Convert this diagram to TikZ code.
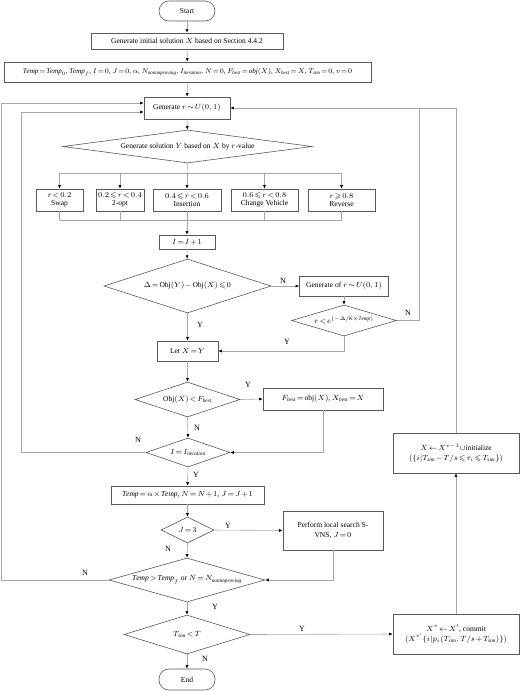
\RequirePackage{fix-cm}
\documentclass[tikz,border=0pt]{standalone}
\usepackage{amssymb}
\usepackage{fontspec}
\setmainfont{Liberation Serif}
\usetikzlibrary{shapes.geometric,arrows.meta,calc}
\newcommand{\mi}[1]{\mathit{#1}}
\AtBeginDocument{\medmuskip=1.5mu\relax\thickmuskip=2mu\relax}
\begin{document}
\begin{tikzpicture}[x=1pt,y=-1pt,
  every node/.style={font=\fontsize{7.5}{9}\selectfont},
  box/.style={draw=black!65, fill=white, line width=0.6pt, rectangle, inner sep=1pt, align=center},
  term/.style={box, rounded corners=10pt},
  dia/.style={draw=black!65, fill=white, line width=0.6pt, diamond, inner sep=0pt, align=center},
  con/.style={draw=black!35, line width=0.6pt},
  arr/.style={con, -{Latex[length=3.5pt,width=3pt,color=black]}},
  lbl/.style={inner sep=0pt, font=\fontsize{8}{9}\selectfont}
]
\useasboundingbox (0,0) rectangle (520,691);

% nodes
\node[term, minimum width=56pt, minimum height=20pt] (start) at (187,11) {Start};
\node[box, minimum width=192pt, minimum height=16pt] (init) at (187,41) {Generate initial solution $X$ based on Section 4.4.2};
\node[box, minimum width=367pt, minimum height=20pt, font=\fontsize{7}{9}\selectfont] (param) at (187.5,72) {$\mi{Temp}=\mi{Temp}_0$, $\mi{Temp}_f$, $I=0$, $J=0$, $\alpha$, $N_{\mi{nonimproving}}$, $I_{\mi{iteration}}$, $N=0$, $F_{\mi{best}}=\mi{obj}(X)$, $X_{\mi{best}}=X$, $T_{\mi{sim}}=0$, $v=0$};
\node[box, minimum width=86pt, minimum height=22pt] (genr) at (187,108) {Generate $r\sim U(0,1)$};
\node[dia, aspect=7.55, minimum width=249pt, minimum height=33pt] (gensol) at (187.5,146.5) {Generate solution $Y$ based on $X$ by $r$-value};
\node[box, minimum width=47pt, minimum height=22pt] (swap) at (59.5,200) {$r<0.2$\\[-1pt]Swap};
\node[box, minimum width=48pt, minimum height=22pt] (opt) at (120,200) {$0.2\leqslant r<0.4$\\[-1pt]2-opt};
\node[box, minimum width=68pt, minimum height=22pt] (ins) at (187,200) {$0.4\leqslant r<0.6$\\[-1pt]Insertion};
\node[box, minimum width=67pt, minimum height=22pt] (chv) at (264.5,200) {$0.6\leqslant r<0.8$\\[-1pt]Change Vehicle};
\node[box, minimum width=67pt, minimum height=22pt] (rev) at (341.5,200) {$r\geqslant 0.8$\\[-1pt]Reverse};
\node[box, minimum width=56pt, minimum height=14pt] (inc) at (187,242) {$I=I+1$};
\node[dia, aspect=3.09, minimum width=167pt, minimum height=54pt] (delta) at (187.5,286) {$\Delta=\mathrm{Obj}(Y)-\mathrm{Obj}(X)\leqslant 0$};
\node[box, minimum width=89pt, minimum height=20pt] (genr2) at (344,286) {Generate of $r\sim U(0,1)$};
\node[dia, aspect=3.39, minimum width=105pt, minimum height=31pt] (rexp) at (344,320.5) {$r<e^{(-\Delta/\mathrm{K}\times \mi{Temp})}$};
\node[box, minimum width=61pt, minimum height=20pt] (letx) at (187.5,351) {Let $X=Y$};
\node[dia, aspect=3, minimum width=105pt, minimum height=35pt] (objd) at (187.5,399.5) {$\mathrm{Obj}(X)<F_{\mi{best}}$};
\node[box, minimum width=120pt, minimum height=22pt] (fbest) at (323,399) {$F_{\mi{best}}=\mathrm{obj}(X)$, $X_{\mi{best}}=X$};
\node[dia, aspect=2.9, minimum width=84pt, minimum height=29pt] (iter) at (188,452.5) {$I=I_{\mi{iteration}}$};
\node[box, minimum width=126pt, minimum height=40pt] (reinit) at (456,453) {$X\leftarrow X^{v-1}\cup$initialize\\[1pt]$(\{i|T_{\mi{sim}}-T/s\leqslant\tau_i\leqslant T_{\mi{sim}}\})$};
\node[box, minimum width=153pt, minimum height=18pt] (cool) at (187.5,495) {$\mi{Temp}=\alpha\times\mi{Temp}$, $N=N+1$, $J=J+1$};
\node[dia, aspect=2.04, minimum width=53pt, minimum height=26pt] (jthree) at (187.5,530) {$J=3$};
\node[box, minimum width=100pt, minimum height=39pt] (vns) at (333,530.5) {Perform local search S-\\[1pt]VNS, $J=0$};
\node[dia, aspect=3.55, minimum width=156pt, minimum height=44pt] (stop) at (187,580) {$\mi{Temp}>\mi{Temp}_f$ or $N=N_{\mi{nonimproving}}$};
\node[dia, aspect=3.23, minimum width=126pt, minimum height=39pt] (tsim) at (187,634.5) {$T_{\mi{sim}}<T$};
\node[box, minimum width=126pt, minimum height=40pt] (commit) at (456,634) {$X^{v}\leftarrow X'$, commit\\[1pt]$(X^{v'}\{i|p_i(T_{\mi{sim}},T/s+T_{\mi{sim}})\})$};
\node[term, minimum width=56pt, minimum height=21pt] (end) at (187,679.5) {End};

% helper coordinates
\coordinate (gin1) at ([yshift=5pt]genr.west);
\coordinate (gin2) at ([yshift=-4pt]genr.west);
\coordinate (brk) at (187,173);
\coordinate (mrg) at (187,220);
\coordinate (rN) at (419,320.5);
\coordinate (rTop) at (419,108);
\coordinate (lx1) at (21,452.5);
\coordinate (lx2) at (1,580);

% connectors
\draw[arr] (start) -- (init);
\draw[arr] (init) -- (param);
\draw[arr] (param) -- (genr);
\draw[arr] (genr) -- (gensol);
\draw[con] (gensol.south) -- (brk);
\draw[con] (brk -| swap.north) -- (brk -| rev.north);
\draw[arr] (brk -| swap.north) -- (swap.north);
\draw[arr] (brk -| opt.north) -- (opt.north);
\draw[arr] (brk) -- (ins.north);
\draw[arr] (brk -| chv.north) -- (chv.north);
\draw[arr] (brk -| rev.north) -- (rev.north);
\draw[con] (swap.south) -- (mrg -| swap.south);
\draw[con] (opt.south) -- (mrg -| opt.south);
\draw[con] (ins.south) -- (mrg);
\draw[con] (chv.south) -- (mrg -| chv.south);
\draw[con] (rev.south) -- (mrg -| rev.south);
\draw[con] (mrg -| swap.south) -- (mrg -| rev.south);
\draw[arr] (mrg) -- (inc.north);
\draw[arr] (inc) -- (delta);
\draw[arr] (delta.east) -- (genr2.west);
\draw[arr] (genr2) -- (rexp);
\draw[arr] (rexp.south) |- (letx.east);
\draw[con] (rexp.east) -- (rN) -- (rTop);
\draw[arr] (reinit.north) |- (genr.east);
\draw[arr] (delta.south) -- (letx.north);
\draw[arr] (letx) -- (objd);
\draw[arr] (objd.east) -- (fbest.west);
\draw[arr] (objd.south) -- (iter.north);
\draw[arr] (fbest.south) |- (iter.east);
\draw[arr] (iter.west) -- (lx1) |- (gin2);
\draw[arr] (iter.south) -- (cool.north);
\draw[arr] (cool) -- (jthree);
\draw[arr] (jthree.east) -- (vns.west);
\draw[arr] (jthree.south) -- (stop.north);
\draw[arr] (vns.south) |- (stop.east);
\draw[arr] (stop.west) -- (lx2) |- (gin1);
\draw[arr] (stop.south) -- (tsim.north);
\draw[arr] (tsim.east) -- (commit.west);
\draw[arr] (tsim.south) -- (end.north);
\draw[arr] (commit.north) -- (reinit.south);

% labels
\node[lbl] (l1) at (283,281) {N};
\node[lbl] (l2) at (408,313) {N};
\node[lbl] (l3) at (200,325) {Y};
\node[lbl] (l4) at (287,342) {Y};
\node[lbl] (l5) at (248,385) {Y};
\node[lbl] (l6) at (197,428) {N};
\node[lbl] (l7) at (138,440) {N};
\node[lbl] (l8) at (196,475) {Y};
\node[lbl] (l9) at (228,526) {Y};
\node[lbl] (l10) at (168,549) {N};
\node[lbl] (l11) at (85,573) {N};
\node[lbl] (l12) at (215,607) {Y};
\node[lbl] (l13) at (302,629) {Y};
\node[lbl] (l14) at (205,659) {N};
\end{tikzpicture}
\end{document}
